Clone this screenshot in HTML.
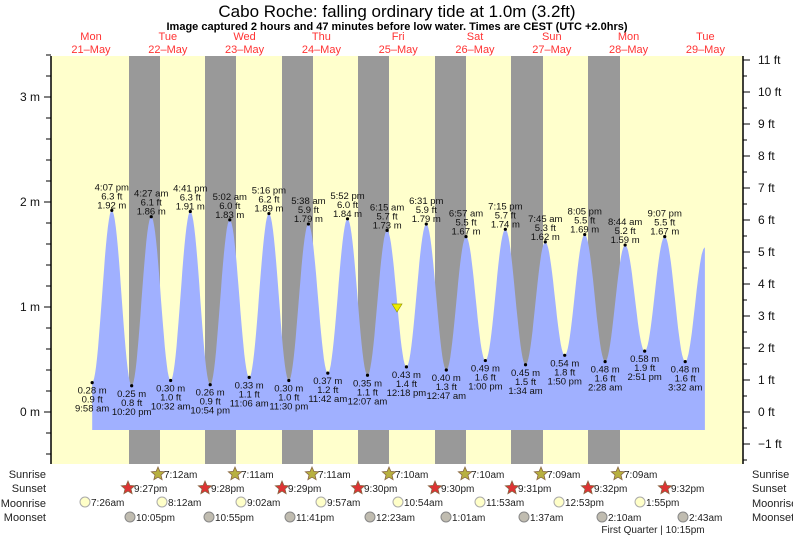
<!DOCTYPE html><html><head><style>body{margin:0;background:#fff}svg{display:block;font-family:"Liberation Sans",sans-serif}</style></head><body>
<svg id="s" width="793" height="538" xmlns="http://www.w3.org/2000/svg">
<rect x="51" y="56" width="692" height="408" fill="#ffffcc"/>
<g fill="#999">
<rect x="129" y="56" width="31" height="408"/><rect x="205" y="56" width="31" height="408"/><rect x="282" y="56" width="31" height="408"/><rect x="358" y="56" width="31" height="408"/><rect x="435" y="56" width="31" height="408"/><rect x="511" y="56" width="32" height="408"/><rect x="588" y="56" width="32" height="408"/>
</g>
<path id="tide" fill="#a0b0ff" d=""/>
<g id="lbl" font-size="9.5" text-anchor="middle" fill="#111"></g>
<polygon points="392,304 402,304 397,312" fill="#ee0" stroke="#990" stroke-width="0.7"/>
<line x1="51" y1="56" x2="51" y2="464" stroke="#000" stroke-width="1.5"/>
<line x1="743" y1="56" x2="743" y2="464" stroke="#000" stroke-width="1.5"/>
<g id="ax" font-size="12" fill="#111"></g>
<text x="397" y="17" font-size="17" text-anchor="middle">Cabo Roche: falling  ordinary tide at 1.0m (3.2ft)</text>
<text x="397" y="30" font-size="11" font-weight="bold" text-anchor="middle">Image captured 2 hours and 47 minutes before low water. Times are CEST (UTC +2.0hrs)</text>
<g font-size="11" fill="#f33" text-anchor="middle" id="days"></g>
<g font-size="11" fill="#222" text-anchor="end">
<text x="46" y="478">Sunrise</text><text x="46" y="492">Sunset</text><text x="46" y="507">Moonrise</text><text x="46" y="521">Moonset</text>
</g>
<g font-size="11" fill="#222">
<text x="752" y="478">Sunrise</text><text x="752" y="492">Sunset</text><text x="752" y="507">Moonrise</text><text x="752" y="521">Moonset</text>
</g>
<g id="sun" font-size="10" fill="#222"></g>
<text x="653" y="533" font-size="10" text-anchor="middle" fill="#222">First Quarter | 10:15pm</text>
</svg>
<script>
var NS="http://www.w3.org/2000/svg";
function T(p,x,y,s,a){var t=document.createElementNS(NS,"text");t.setAttribute("x",x);t.setAttribute("y",y);if(a)for(var k in a)t.setAttribute(k,a[k]);t.textContent=s;document.getElementById(p).appendChild(t);return t;}
function E(p,n,a){var e=document.createElementNS(NS,n);for(var k in a)e.setAttribute(k,a[k]);document.getElementById(p).appendChild(e);}
var ex=[
[-14.03,0.28,"0.9 ft","9:58 am"],[-7.88,1.92,"6.3 ft","4:07 pm"],[-1.67,0.25,"0.8 ft","10:20 pm"],[4.45,1.86,"6.1 ft","4:27 am"],
[10.53,0.30,"1.0 ft","10:32 am"],[16.68,1.91,"6.3 ft","4:41 pm"],[22.9,0.26,"0.9 ft","10:54 pm"],[29.03,1.83,"6.0 ft","5:02 am"],
[35.1,0.33,"1.1 ft","11:06 am"],[41.27,1.89,"6.2 ft","5:16 pm"],[47.5,0.30,"1.0 ft","11:30 pm"],[53.63,1.79,"5.9 ft","5:38 am"],
[59.7,0.37,"1.2 ft","11:42 am"],[65.87,1.84,"6.0 ft","5:52 pm"],[72.12,0.35,"1.1 ft","12:07 am"],[78.25,1.73,"5.7 ft","6:15 am"],
[84.3,0.43,"1.4 ft","12:18 pm"],[90.52,1.79,"5.9 ft","6:31 pm"],[96.78,0.40,"1.3 ft","12:47 am"],[102.95,1.67,"5.5 ft","6:57 am"],
[109,0.49,"1.6 ft","1:00 pm"],[115.25,1.74,"5.7 ft","7:15 pm"],[121.57,0.45,"1.5 ft","1:34 am"],[127.75,1.62,"5.3 ft","7:45 am"],
[133.83,0.54,"1.8 ft","1:50 pm"],[140.08,1.69,"5.5 ft","8:05 pm"],[146.47,0.48,"1.6 ft","2:28 am"],[152.73,1.59,"5.2 ft","8:44 am"],
[158.85,0.58,"1.9 ft","2:51 pm"],[165.12,1.67,"5.5 ft","9:07 pm"],[171.53,0.48,"1.6 ft","3:32 am"],[177.7,1.57]];
function X(h){return 137+3.196*h}function Y(m){return 412-105*m}
var d="M"+X(-14.03).toFixed(1)+",430 ";
for(var i=0;i<ex.length-1;i++){var a=ex[i],b=ex[i+1];var n=(i==ex.length-2)?12:20;for(var j=0;j<=n;j++){var f=j/n;var h=a[0]+(b[0]-a[0])*f;var m=a[1]+(b[1]-a[1])*(1-Math.cos(Math.PI*f))/2;d+="L"+X(h).toFixed(1)+","+Y(m).toFixed(1)+" ";}}
d+="L"+X(177.7).toFixed(1)+",430 Z";document.getElementById("tide").setAttribute("d",d);
for(var i=0;i<31;i++){var e=ex[i],x=X(e[0]),y=Y(e[1]);E("lbl","circle",{cx:x,cy:y,r:1.6,fill:"#000"});var ms=e[1].toFixed(2)+" m";
if(e[1]>1){T("lbl",x,y-20,e[3]);T("lbl",x,y-11,e[2]);T("lbl",x,y-2,ms);}else{T("lbl",x,y+11,ms);T("lbl",x,y+20,e[2]);T("lbl",x,y+29,e[3]);}}
for(var m=-0.4;m<=3.45;m+=0.2){var y=Y(m);var maj=Math.abs(m-Math.round(m))<0.01;E("ax","line",{x1:maj?44:46,x2:51,y1:y,y2:y,stroke:"#000"});}
["0 m","1 m","2 m","3 m"].forEach(function(s,k){T("ax",40,Y(k)+4,s,{"text-anchor":"end"});});
for(var f=-1;f<=11;f++){var y=412-32*f;E("ax","line",{x1:743,x2:750,y1:y,y2:y,stroke:"#000"});if(f<11)E("ax","line",{x1:743,x2:747,y1:y-16,y2:y-16,stroke:"#000"});T("ax",758,y+4,(f<0?"\u22121":f)+" ft");}
E("ax","line",{x1:743,x2:747,y1:460,y2:460,stroke:"#000"});
var dn=[["Mon","21\u2013May"],["Tue","22\u2013May"],["Wed","23\u2013May"],["Thu","24\u2013May"],["Fri","25\u2013May"],["Sat","26\u2013May"],["Sun","27\u2013May"],["Mon","28\u2013May"],["Tue","29\u2013May"]];
dn.forEach(function(v,k){var x=91+76.8*k;T("days",x,40,v[0]);T("days",x,53,v[1]);});
function star(cx,cy,fill){var p="";for(var k=0;k<10;k++){var r=k%2?3.2:7,a=-Math.PI/2+k*Math.PI/5;p+=(cx+r*Math.cos(a)).toFixed(1)+","+(cy+r*Math.sin(a)).toFixed(1)+" ";}E("sun","polygon",{points:p,fill:fill,stroke:"#864","stroke-width":0.8});}
var sr=[[158,"7:12am"],[235,"7:11am"],[312,"7:11am"],[389,"7:10am"],[465,"7:10am"],[541,"7:09am"],[618,"7:09am"]];
sr.forEach(function(v){star(v[0],474,"#b8b040");T("sun",v[0]+6,478,v[1]);});
var ss=[[128,"9:27pm"],[205,"9:28pm"],[282,"9:29pm"],[358,"9:30pm"],[435,"9:30pm"],[512,"9:31pm"],[588,"9:32pm"],[665,"9:32pm"]];
ss.forEach(function(v){star(v[0],488,"#d33");T("sun",v[0]+6,492,v[1]);});
var mr=[[85,"7:26am"],[162,"8:12am"],[241,"9:02am"],[321,"9:57am"],[398,"10:54am"],[480,"11:53am"],[559,"12:53pm"],[640,"1:55pm"]];
mr.forEach(function(v){E("sun","circle",{cx:v[0],cy:502,r:5,fill:"#ffffc8",stroke:"#aaa"});T("sun",v[0]+6,506,v[1]);});
var ms2=[[130,"10:05pm"],[209,"10:55pm"],[290,"11:41pm"],[370,"12:23am"],[446,"1:01am"],[524,"1:37am"],[602,"2:10am"],[683,"2:43am"]];
ms2.forEach(function(v){E("sun","circle",{cx:v[0],cy:517,r:5,fill:"#c0bcb0",stroke:"#888"});T("sun",v[0]+6,521,v[1]);});
</script></body></html>
